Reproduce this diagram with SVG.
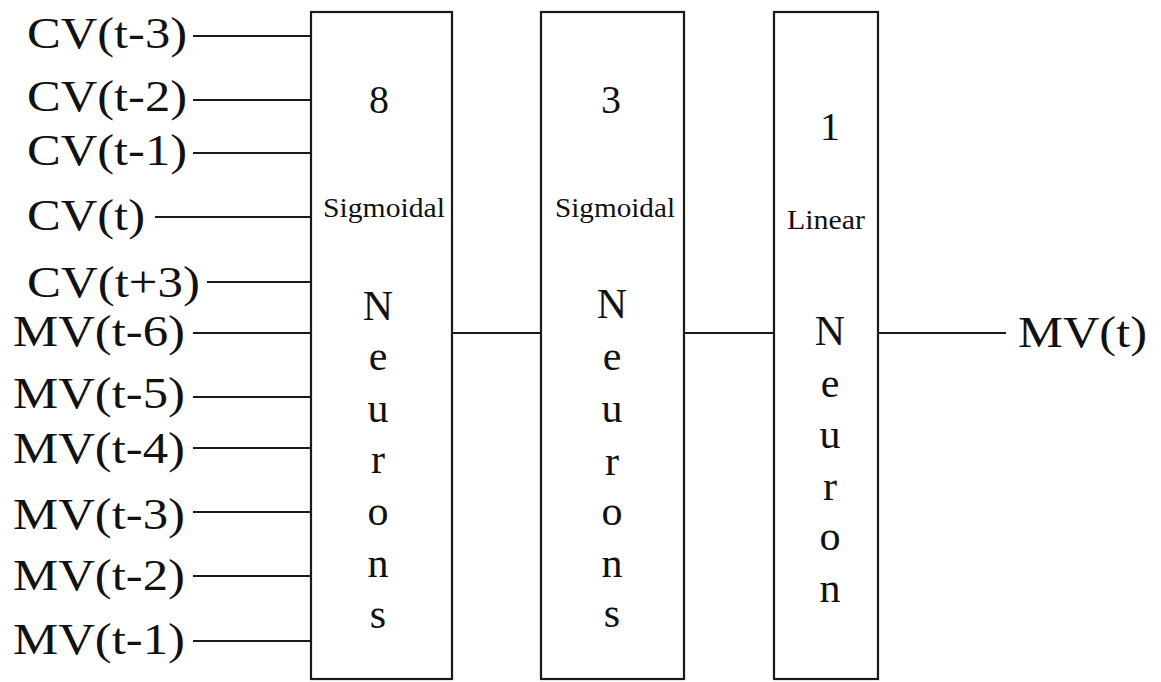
<svg xmlns="http://www.w3.org/2000/svg" width="1161" height="682" viewBox="0 0 1161 682">
<style>
.box{fill:#fff;stroke:#1a1a1a;stroke-width:2.2}
.ln{stroke:#1a1a1a;stroke-width:2;fill:none}
text{font-family:'Liberation Serif',serif;fill:#111}
.lbl{font-size:44px}
.dig{font-size:40px;text-anchor:middle}
.act{font-size:27px;text-anchor:middle}
.vl{font-size:42px;text-anchor:middle}
</style>
<rect width="1161" height="682" fill="#fff"/>
<g id="connectors">
<line class="ln" x1="193" y1="36" x2="311" y2="36"/>
<line class="ln" x1="193" y1="100" x2="311" y2="100"/>
<line class="ln" x1="193" y1="153" x2="311" y2="153"/>
<line class="ln" x1="155" y1="217" x2="311" y2="217"/>
<line class="ln" x1="207" y1="282" x2="311" y2="282"/>
<line class="ln" x1="193" y1="333" x2="311" y2="333"/>
<line class="ln" x1="193" y1="397" x2="311" y2="397"/>
<line class="ln" x1="193" y1="448" x2="311" y2="448"/>
<line class="ln" x1="193" y1="512" x2="311" y2="512"/>
<line class="ln" x1="193" y1="576" x2="311" y2="576"/>
<line class="ln" x1="193" y1="641" x2="311" y2="641"/>
<line class="ln" x1="452" y1="333" x2="541" y2="333"/>
<line class="ln" x1="684" y1="333" x2="774" y2="333"/>
<line class="ln" x1="878" y1="333" x2="1006" y2="333"/>
</g>
<g id="inputs">
<text class="lbl" x="27" y="48" textLength="160" lengthAdjust="spacingAndGlyphs">CV(t-3)</text>
<text class="lbl" x="27" y="111" textLength="160" lengthAdjust="spacingAndGlyphs">CV(t-2)</text>
<text class="lbl" x="27" y="165" textLength="160" lengthAdjust="spacingAndGlyphs">CV(t-1)</text>
<text class="lbl" x="27" y="230" textLength="118" lengthAdjust="spacingAndGlyphs">CV(t)</text>
<text class="lbl" x="27" y="297" textLength="173" lengthAdjust="spacingAndGlyphs">CV(t+3)</text>
<text class="lbl" x="13" y="346" textLength="172" lengthAdjust="spacingAndGlyphs">MV(t-6)</text>
<text class="lbl" x="13" y="408" textLength="172" lengthAdjust="spacingAndGlyphs">MV(t-5)</text>
<text class="lbl" x="13" y="463" textLength="172" lengthAdjust="spacingAndGlyphs">MV(t-4)</text>
<text class="lbl" x="13" y="529" textLength="172" lengthAdjust="spacingAndGlyphs">MV(t-3)</text>
<text class="lbl" x="13" y="590" textLength="172" lengthAdjust="spacingAndGlyphs">MV(t-2)</text>
<text class="lbl" x="13" y="654" textLength="172" lengthAdjust="spacingAndGlyphs">MV(t-1)</text>
</g>
<g id="layer1">
<rect class="box" x="311" y="12" width="141" height="667"/>
<text class="dig" x="379" y="113">8</text>
<text class="act" x="384" y="217" textLength="122" lengthAdjust="spacingAndGlyphs">Sigmoidal</text>
<text class="vl" x="378" y="320">N</text>
<text class="vl" x="378" y="370">e</text>
<text class="vl" x="378" y="422">u</text>
<text class="vl" x="378" y="473">r</text>
<text class="vl" x="378" y="525">o</text>
<text class="vl" x="378" y="577">n</text>
<text class="vl" x="378" y="628">s</text>
</g>
<g id="layer2">
<rect class="box" x="541" y="12" width="143" height="667"/>
<text class="dig" x="611" y="113">3</text>
<text class="act" x="615" y="217" textLength="120" lengthAdjust="spacingAndGlyphs">Sigmoidal</text>
<text class="vl" x="612" y="318">N</text>
<text class="vl" x="612" y="370">e</text>
<text class="vl" x="612" y="422">u</text>
<text class="vl" x="612" y="475">r</text>
<text class="vl" x="612" y="525">o</text>
<text class="vl" x="612" y="577">n</text>
<text class="vl" x="612" y="627">s</text>
</g>
<g id="layer3">
<rect class="box" x="774" y="12" width="104" height="667"/>
<text class="dig" x="830" y="140">1</text>
<text class="act" x="826" y="229" textLength="78" lengthAdjust="spacingAndGlyphs">Linear</text>
<text class="vl" x="830" y="345">N</text>
<text class="vl" x="830" y="397">e</text>
<text class="vl" x="830" y="448">u</text>
<text class="vl" x="830" y="500">r</text>
<text class="vl" x="830" y="550">o</text>
<text class="vl" x="830" y="602">n</text>
</g>
<g id="output">
<text class="lbl" x="1018" y="347" textLength="129" lengthAdjust="spacingAndGlyphs">MV(t)</text>
</g>
</svg>
